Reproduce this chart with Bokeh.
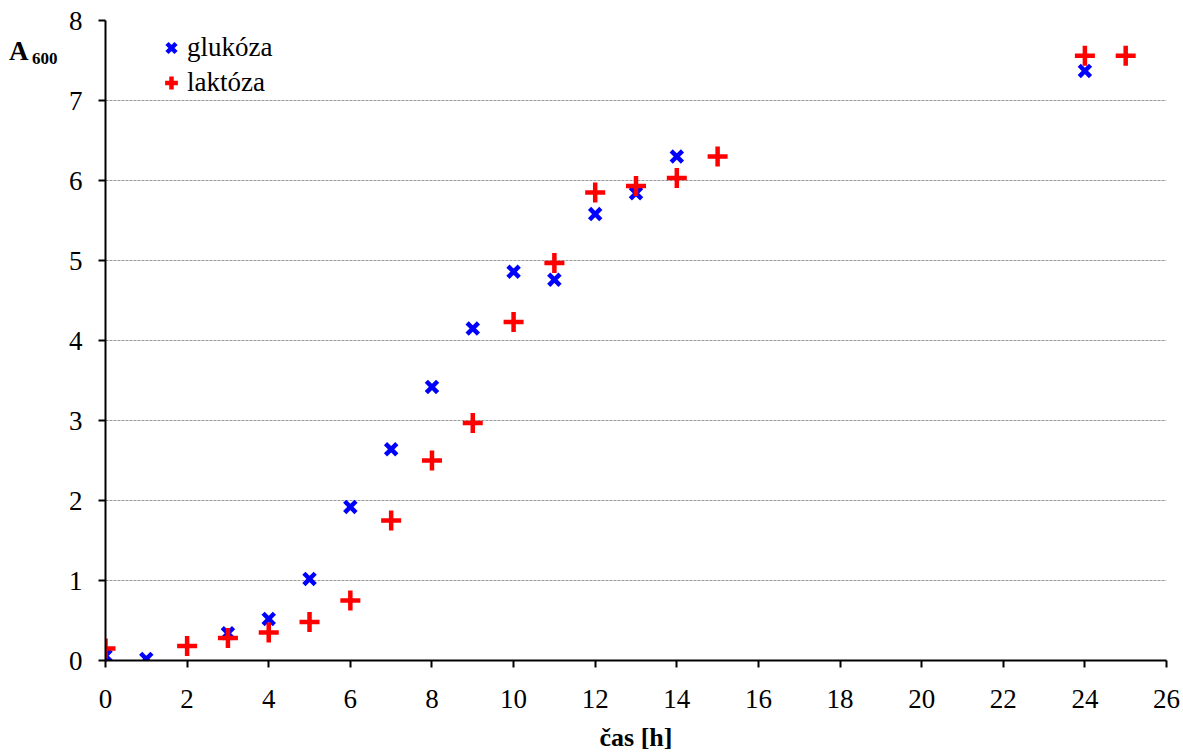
from bokeh.plotting import figure
from bokeh.models import Legend, LegendItem, Range1d, FixedTicker, LinearAxis
from bokeh.embed import file_html
from bokeh.resources import INLINE

glc_t = [0, 1, 3, 4, 5, 6, 7, 8, 9, 10, 11, 12, 13, 14, 24]
glc_a = [0.06, 0.02, 0.34, 0.52, 1.02, 1.92, 2.64, 3.42, 4.15, 4.86, 4.76, 5.58, 5.84, 6.30, 7.37]
lac_t = [0, 2, 3, 4, 5, 6, 7, 8, 9, 10, 11, 12, 13, 14, 15, 24, 25]
lac_a = [0.15, 0.18, 0.28, 0.35, 0.48, 0.75, 1.75, 2.50, 2.97, 4.23, 4.97, 5.85, 5.93, 6.03, 6.30, 7.56, 7.56]
x_ticks = list(range(0, 27, 2))
y_ticks = list(range(0, 9))

FONT = "Liberation Serif"

p = figure(width=1180, height=754, output_backend="svg", toolbar_location=None,
           x_range=Range1d(0, 26), y_range=Range1d(0, 8),
           min_border_left=105, min_border_right=14, min_border_top=20, min_border_bottom=94)
p.outline_line_color = None
p.background_fill_color = "white"
p.border_fill_color = "white"

p.xgrid.visible = False
p.ygrid.grid_line_color = "#999999"
p.ygrid.grid_line_dash = "3 1"
p.ygrid.grid_line_width = 1
p.ygrid.ticker = FixedTicker(ticks=y_ticks)

for ax, ticks in ((p.xaxis[0], x_ticks), (p.yaxis[0], y_ticks)):
    ax.ticker = FixedTicker(ticks=ticks)
    ax.axis_line_color = "black"
    ax.axis_line_width = 2
    ax.major_tick_line_color = "black"
    ax.major_tick_line_width = 2
    ax.major_tick_in = 0
    ax.major_tick_out = 7
    ax.minor_tick_line_color = None
    ax.major_label_text_font = FONT
    ax.major_label_text_font_size = "27px"
    ax.major_label_text_color = "black"

p.yaxis.major_label_standoff = 16
p.xaxis.major_label_standoff = 22
p.xaxis.axis_label = "čas [h]"
p.xaxis.axis_label_text_font = FONT
p.xaxis.axis_label_text_font_style = "bold"
p.xaxis.axis_label_text_font_size = "26px"
p.xaxis.axis_label_text_color = "black"
p.xaxis.axis_label_standoff = 12

# y-axis title "A600" drawn as tick labels of two bare axes on the left
def title_axis(pos, text, size, standoff):
    ax = LinearAxis(ticker=FixedTicker(ticks=[pos]),
                    major_label_overrides={pos: text},
                    axis_line_color=None, major_tick_line_color=None,
                    minor_tick_line_color=None, major_tick_in=0, major_tick_out=0,
                    major_label_standoff=standoff,
                    major_label_text_font=FONT, major_label_text_font_style="bold",
                    major_label_text_font_size=size, major_label_text_color="black")
    p.add_layout(ax, "left")

title_axis(7.53, "600", "17px", 8)
title_axis(7.625, "A", "27px", 0)

rg = p.scatter(glc_t, glc_a, marker="x", size=16, line_color="#0000ff", line_width=4.5)
rl = p.scatter(lac_t, lac_a, marker="cross", size=20, line_color="#ff0000", line_width=4.5)

legend = Legend(items=[LegendItem(label="glukóza", renderers=[rg]),
                       LegendItem(label="laktóza", renderers=[rl])],
                location=(50, 560), padding=0, spacing=0, margin=0,
                label_height=35, glyph_height=35, glyph_width=32, label_standoff=0,
                label_text_font=FONT, label_text_font_size="27px", label_text_color="black",
                border_line_color=None, background_fill_alpha=0)
p.add_layout(legend)

open("out.html", "w").write(file_html(p, INLINE))
